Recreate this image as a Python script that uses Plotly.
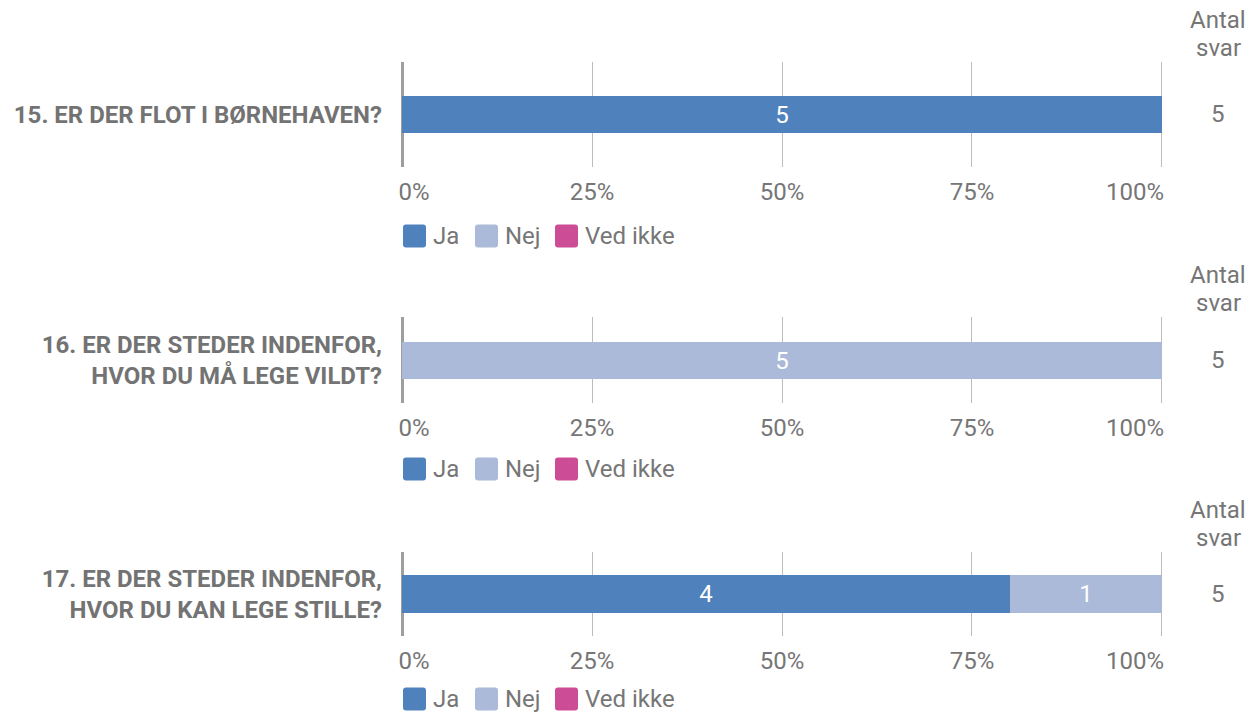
import plotly.graph_objects as go

# ---------------- data ----------------
questions = [
    "15. ER DER FLOT I BØRNEHAVEN?",
    "16. ER DER STEDER INDENFOR,<br>HVOR DU MÅ LEGE VILDT?",
    "17. ER DER STEDER INDENFOR,<br>HVOR DU KAN LEGE STILLE?",
]
categories = ["Ja", "Nej", "Ved ikke"]
ja = [5, 0, 4]
nej = [0, 5, 1]
ved_ikke = [0, 0, 0]
tick_vals = [0, 25, 50, 75, 100]
tick_labels = ["0%", "25%", "50%", "75%", "100%"]
count_header = ["Antal", "svar"]

# ---------------- style ----------------
W, H = 1258, 714
colors = {"Ja": "#4f81bd", "Nej": "#aabad8", "Ved ikke": "#cc4c95"}
FONT = "Roboto"
TXT = "#767676"
LBL = "#737373"
FS = 24

def px(x):
    return x / W

def py(y):
    return 1 - y / H

# panel layout (pixel top/bottom of plot area)
panels = [(62, 167), (317, 403), (552, 636)]
bar_px = [37, 37, 38]
x_left, x_right = 401, 1163
legend_y = [236, 469, 699]
count_x = 1218

series = {"Ja": ja, "Nej": nej, "Ved ikke": ved_ikke}

# pad tick labels so 0% sits right of the line and 100% left of it, like the original
nb = "\u00a0"
tick_text = [nb * 4 + tick_labels[0]] + tick_labels[1:4] + [tick_labels[4] + nb * 9]

fig = go.Figure()
layout = dict(
    width=W, height=H, margin=dict(l=0, r=0, t=0, b=0, autoexpand=False),
    paper_bgcolor="white", plot_bgcolor="white",
    barmode="stack", bargap=0, showlegend=False,
    font=dict(family=FONT, size=FS, color=TXT),
)
annotations = []
shapes = []

for i, q in enumerate(questions):
    sfx = "" if i == 0 else str(i + 1)
    total = sum(series[c][i] for c in categories)
    for c in categories:
        v = series[c][i]
        fig.add_trace(go.Bar(
            x=[v / total * 100], y=[q], orientation="h",
            name=c, marker=dict(color=colors[c], line=dict(width=0)),
            text=[str(v) if v else ""], textposition="inside",
            insidetextanchor="middle",
            textfont=dict(family=FONT, size=FS, color="white"),
            xaxis="x" + sfx, yaxis="y" + sfx,
            hovertemplate=c + ": %{text}<extra></extra>",
        ))
    top, bot = panels[i]
    r = (bot - top) / bar_px[i] / 2
    layout["xaxis" + sfx] = dict(
        domain=[px(x_left), px(x_right)], anchor="y" + sfx,
        range=[-0.15, 100.15], tickvals=tick_vals, ticktext=tick_text,
        showgrid=True, gridcolor="#bdbdbd", gridwidth=1,
        zeroline=True, zerolinecolor="#9e9e9e", zerolinewidth=3,
        showline=False, ticks="", ticklabelstandoff=8, automargin=False,
        tickfont=dict(family=FONT, size=FS, color=TXT), fixedrange=True,
    )
    layout["yaxis" + sfx] = dict(
        domain=[py(bot), py(top)], anchor="x" + sfx,
        type="category", range=[-r, r], automargin=False,
        showgrid=False, zeroline=False, showline=False, ticks="",
        ticklabelstandoff=18,
        tickfont=dict(family=FONT, size=FS, color=LBL, weight="bold"),
        fixedrange=True,
    )
    # header + total count
    for k, word in enumerate(count_header):
        annotations.append(dict(
            x=px(count_x), y=py(top - 42 + 28 * k), xref="paper", yref="paper",
            text=word, showarrow=False, xanchor="center", yanchor="middle",
            font=dict(family=FONT, size=FS, color=TXT),
        ))
    annotations.append(dict(
        x=px(count_x), y=py((top + bot) / 2), xref="paper", yref="paper",
        text=str(total), showarrow=False, xanchor="center", yanchor="middle",
        font=dict(family=FONT, size=FS, color=TXT),
    ))
    # legend row
    ly = legend_y[i]
    sq_x = [403, 475, 555]
    for c, sx in zip(categories, sq_x):
        s, rr = 23, 3
        x0, x1 = sx, sx + s
        y0, y1 = ly - s / 2, ly + s / 2
        path = (
            f"M{px(x0 + rr)},{py(y0)} L{px(x1 - rr)},{py(y0)} "
            f"Q{px(x1)},{py(y0)} {px(x1)},{py(y0 + rr)} "
            f"L{px(x1)},{py(y1 - rr)} Q{px(x1)},{py(y1)} {px(x1 - rr)},{py(y1)} "
            f"L{px(x0 + rr)},{py(y1)} Q{px(x0)},{py(y1)} {px(x0)},{py(y1 - rr)} "
            f"L{px(x0)},{py(y0 + rr)} Q{px(x0)},{py(y0)} {px(x0 + rr)},{py(y0)} Z"
        )
        shapes.append(dict(type="path", path=path, xref="paper", yref="paper",
                           fillcolor=colors[c], line=dict(width=0)))
        annotations.append(dict(
            x=px(x1 + 5), y=py(ly), xref="paper", yref="paper", text=c,
            showarrow=False, xanchor="left", yanchor="middle",
            font=dict(family=FONT, size=FS, color=TXT),
        ))

layout["annotations"] = annotations
layout["shapes"] = shapes
fig.update_layout(**layout)
fig.write_html("out.html", config={"displayModeBar": False},
               post_script="document.body.style.margin='0';")
